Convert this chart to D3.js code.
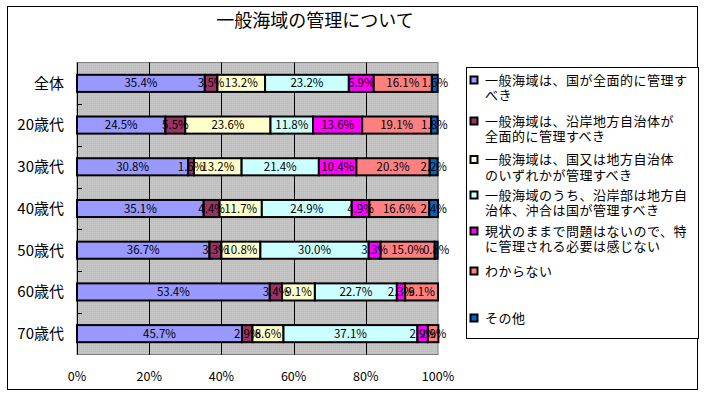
<!DOCTYPE html>
<meta charset="utf-8">
<script src="https://cdnjs.cloudflare.com/ajax/libs/d3/7.8.5/d3.min.js"></script>
<style>
body { margin: 0; background: #fff; }
text { font-family: "MS PGothic", "Noto Sans CJK JP", sans-serif; }
</style>
<body>
<script>

// data
var groups = ["全体", "20歳代", "30歳代", "40歳代", "50歳代", "60歳代", "70歳代"];
var seriesNames = [
  "一般海域は、国が全面的に管理すべき",
  "一般海域は、沿岸地方自治体が全面的に管理すべき",
  "一般海域は、国又は地方自治体のいずれかが管理すべき",
  "一般海域のうち、沿岸部は地方自治体、沖合は国が管理すべき",
  "現状のままで問題はないので、特に管理される必要は感じない",
  "わからない",
  "その他"
];
// legend lines as they wrap in the picture
var legendLines = [
  ["一般海域は、国が全面的に管理す", "べき"],
  ["一般海域は、沿岸地方自治体が", "全面的に管理すべき"],
  ["一般海域は、国又は地方自治体", "のいずれかが管理すべき"],
  ["一般海域のうち、沿岸部は地方自", "治体、沖合は国が管理すべき"],
  ["現状のままで問題はないので、特", "に管理される必要は感じない"],
  ["わからない"],
  ["その他"]
];
var colors = ["#9999FF", "#993366", "#FFFFCC", "#CCFFFF", "#FF00FF", "#FF8080", "#0066CC"];
// percent per group, one array per series
var s1 = [35.4, 24.5, 30.8, 35.1, 36.7, 53.4, 45.7];
var s2 = [3.5, 5.5, 1.6, 4.4, 3.3, 3.4, 2.9];
var s3 = [13.2, 23.6, 13.2, 11.7, 10.8, 9.1, 8.6];
var s4 = [23.2, 11.8, 21.4, 24.9, 30.0, 22.7, 37.1];
var s5 = [6.9, 13.6, 10.4, 4.9, 3.3, 2.3, 2.9];
var s6 = [16.1, 19.1, 20.3, 16.6, 15.0, 9.1, 2.9];
var s7 = [1.6, 1.8, 2.2, 2.4, 0.8, 0, 0];
var xTicks = [0, 20, 40, 60, 80, 100];

var series = [s1, s2, s3, s4, s5, s6, s7];

var W = 705, H = 393;
var plot = {left: 77, right: 438, top: 62.5, bottom: 354.5};

var svg = d3.select("body").append("svg")
  .attr("width", W)
  .attr("height", H);

// outer frame
svg.append("rect")
  .attr("x", 7.5).attr("y", 6.5)
  .attr("width", 690).attr("height", 383)
  .attr("fill", "#fff").attr("stroke", "#000");

svg.append("text")
  .attr("x", 315).attr("y", 27)
  .attr("text-anchor", "middle")
  .style("font-size", "18px")
  .text("一般海域の管理について");

var x = d3.scaleLinear().domain([0, 100]).range([plot.left, plot.right]);
var y = d3.scaleBand().domain(groups)
  .range([plot.top, plot.bottom])
  .paddingInner(0.59).paddingOuter(0.295);

// plot background with fine dot pattern
var defs = svg.append("defs");
var pat = defs.append("pattern").attr("id", "dots")
  .attr("width", 2).attr("height", 2).attr("patternUnits", "userSpaceOnUse");
pat.append("rect").attr("width", 2).attr("height", 2).attr("fill", "#C0C0C0");
pat.append("rect").attr("width", 1).attr("height", 1).attr("fill", "#CACACA");

svg.append("rect")
  .attr("x", plot.left).attr("y", plot.top)
  .attr("width", plot.right - plot.left).attr("height", plot.bottom - plot.top)
  .attr("fill", "url(#dots)").attr("stroke", "#808080");

// vertical gridlines
svg.selectAll(".grid").data(xTicks.slice(1, -1)).enter().append("line")
  .attr("class", "grid")
  .attr("x1", function(d) { return Math.round(x(d)) + 0.5; })
  .attr("x2", function(d) { return Math.round(x(d)) + 0.5; })
  .attr("y1", plot.top).attr("y2", plot.bottom)
  .attr("stroke", "#000");

// category axis line + inner ticks between categories
svg.append("line")
  .attr("x1", plot.left + 0.5).attr("x2", plot.left + 0.5)
  .attr("y1", plot.top).attr("y2", plot.bottom)
  .attr("stroke", "#000");
var boundaries = groups.slice(1).map(function(g) { return y(g) - y.step() * y.paddingInner() / 2; });
svg.selectAll(".ytick").data(boundaries).enter().append("line")
  .attr("x1", plot.left).attr("x2", plot.left + 5)
  .attr("y1", function(d) { return Math.round(d) + 0.5; })
  .attr("y2", function(d) { return Math.round(d) + 0.5; })
  .attr("stroke", "#000");

// stacked rows
var rows = groups.map(function(g, i) {
  var acc = 0;
  return series.map(function(s, k) {
    var seg = {group: g, k: k, v: s[i], x0: acc, x1: acc + s[i]};
    acc += s[i];
    return seg;
  });
});
var segs = [].concat.apply([], rows);

svg.selectAll(".bar").data(segs.filter(function(d) { return d.v > 0; })).enter().append("rect")
  .attr("class", "bar")
  .attr("x", function(d) { return x(d.x0); })
  .attr("y", function(d) { return y(d.group); })
  .attr("width", function(d) { return x(d.x1) - x(d.x0); })
  .attr("height", y.bandwidth())
  .attr("fill", function(d) { return colors[d.k]; })
  .attr("stroke", "#000")
  .attr("stroke-width", 2);

svg.selectAll(".lbl").data(segs.filter(function(d) { return d.v > 0; })).enter().append("text")
  .attr("x", function(d) { return x((d.x0 + d.x1) / 2); })
  .attr("y", function(d) { return y(d.group) + y.bandwidth() / 2; })
  .attr("dy", "0.36em")
  .attr("text-anchor", "middle")
  .style("font-size", "11.5px")
  .text(function(d) { return d.v.toFixed(1) + "%"; });

// category labels
svg.selectAll(".cat").data(groups).enter().append("text")
  .attr("x", 64)
  .attr("y", function(d) { return y(d) + y.bandwidth() / 2; })
  .attr("dy", "0.36em")
  .attr("text-anchor", "end")
  .style("font-size", "15px")
  .text(function(d) { return d; });

// x tick labels
svg.selectAll(".xl").data(xTicks).enter().append("text")
  .attr("x", function(d) { return x(d); })
  .attr("y", 381)
  .attr("text-anchor", "middle")
  .style("font-size", "12.5px")
  .text(function(d) { return d + "%"; });

// legend
svg.append("rect")
  .attr("x", 466.5).attr("y", 67.5)
  .attr("width", 232).attr("height", 271)
  .attr("fill", "#fff").attr("stroke", "#000");
var legendY = [80, 121, 159.5, 195, 231, 271, 318];
var lg = svg.selectAll(".leg").data(seriesNames).enter().append("g")
  .attr("transform", function(d, i) { return "translate(470," + legendY[i] + ")"; });
lg.append("rect")
  .attr("x", 0.5).attr("y", -3.5)
  .attr("width", 7).attr("height", 7)
  .attr("fill", function(d, i) { return colors[i]; })
  .attr("stroke", "#000").attr("stroke-width", 2);
lg.each(function(d, i) {
  var g = d3.select(this);
  legendLines[i].forEach(function(line, j) {
    g.append("text")
      .attr("x", 15)
      .attr("y", j * 15.5)
      .attr("dy", "0.36em")
      .style("font-size", "13px")
      .style("letter-spacing", "0.5px")
      .text(line);
  });
});

</script>
</body>
</html>
